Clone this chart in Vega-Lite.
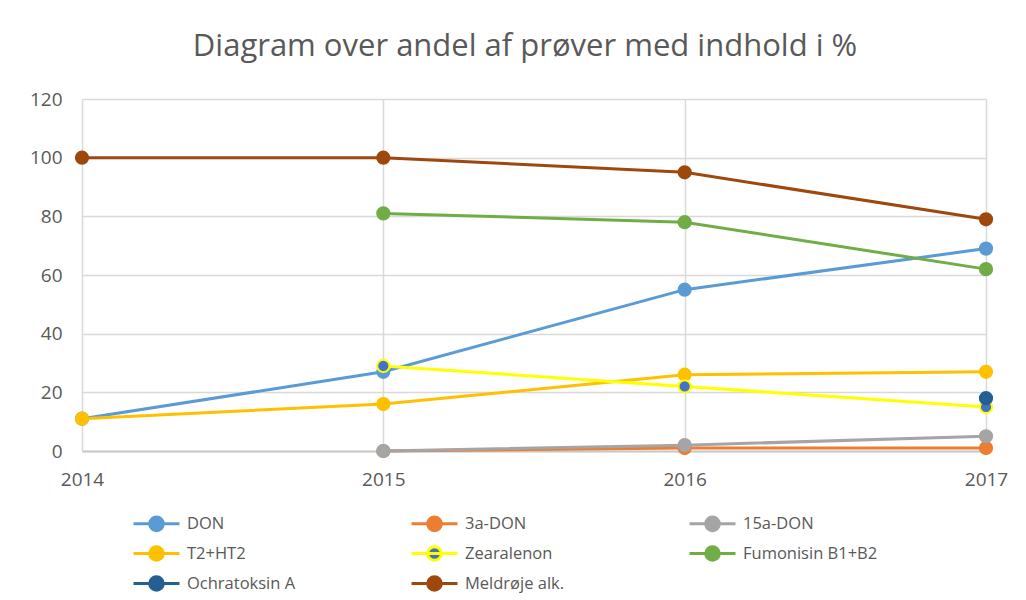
{
  "$schema": "https://vega.github.io/schema/vega-lite/v6.json",
  "width": 904,
  "height": 352,
  "autosize": "none",
  "padding": {"left": 82, "top": 99, "right": 40, "bottom": 149},
  "background": "white",
  "config": {
    "font": "Open Sans",
    "view": {"stroke": null},
    "axis": {"labelColor": "#595959", "labelFontSize": 19, "gridColor": "#d9d9d9", "gridWidth": 1.5, "ticks": false, "title": null},
    "legend": {"labelColor": "#595959", "labelFontSize": 16.5, "padding": 0}
  },
  "title": {
    "text": "Diagram over andel af prøver med indhold i %",
    "fontSize": 31,
    "fontWeight": "normal",
    "color": "#595959",
    "frame": "group",
    "anchor": "middle",
    "baseline": "alphabetic",
    "offset": 3,
    "dx": -9
  },
  "data": {
    "values": [
      {"year": 2014, "series": "DON", "value": 11},
      {"year": 2015, "series": "DON", "value": 27},
      {"year": 2016, "series": "DON", "value": 55},
      {"year": 2017, "series": "DON", "value": 69},
      {"year": 2015, "series": "3a-DON", "value": 0},
      {"year": 2016, "series": "3a-DON", "value": 1},
      {"year": 2017, "series": "3a-DON", "value": 1},
      {"year": 2015, "series": "15a-DON", "value": 0},
      {"year": 2016, "series": "15a-DON", "value": 2},
      {"year": 2017, "series": "15a-DON", "value": 5},
      {"year": 2014, "series": "T2+HT2", "value": 11},
      {"year": 2015, "series": "T2+HT2", "value": 16},
      {"year": 2016, "series": "T2+HT2", "value": 26},
      {"year": 2017, "series": "T2+HT2", "value": 27},
      {"year": 2015, "series": "Zearalenon", "value": 29},
      {"year": 2016, "series": "Zearalenon", "value": 22},
      {"year": 2017, "series": "Zearalenon", "value": 15},
      {"year": 2015, "series": "Fumonisin B1+B2", "value": 81},
      {"year": 2016, "series": "Fumonisin B1+B2", "value": 78},
      {"year": 2017, "series": "Fumonisin B1+B2", "value": 62},
      {"year": 2017, "series": "Ochratoksin A", "value": 18},
      {"year": 2014, "series": "Meldrøje alk.", "value": 100},
      {"year": 2015, "series": "Meldrøje alk.", "value": 100},
      {"year": 2016, "series": "Meldrøje alk.", "value": 95},
      {"year": 2017, "series": "Meldrøje alk.", "value": 79}
    ]
  },
  "encoding": {
    "x": {
      "field": "year", "type": "quantitative",
      "scale": {"domain": [2014, 2017], "nice": false, "zero": false},
      "axis": {"values": [2014, 2015, 2016, 2017], "format": "d", "labelPadding": 19, "domainColor": "#c8c8c8", "domainWidth": 2, "labelFlush": false}
    },
    "y": {
      "field": "value", "type": "quantitative",
      "scale": {"domain": [0, 120], "nice": false},
      "axis": {"values": [0, 20, 40, 60, 80, 100, 120], "labelPadding": 20, "domain": false}
    }
  },
  "layer": [
    {
      "mark": {"type": "line", "strokeWidth": 3},
      "encoding": {
        "stroke": {
          "field": "series", "type": "nominal",
          "scale": {
            "domain": ["DON", "3a-DON", "15a-DON", "T2+HT2", "Zearalenon", "Fumonisin B1+B2", "Ochratoksin A", "Meldrøje alk."],
            "range": ["#5B9BD5", "#ED7D31", "#A5A5A5", "#FFC000", "#FFFF00", "#70AD47", "#255E91", "#9E480E"]
          },
          "legend": {
            "title": null,
            "orient": "none",
            "legendX": 63,
            "legendY": 413,
            "direction": "horizontal",
            "columns": 3,
            "gridAlign": "all",
            "columnPadding": 83,
            "rowPadding": 3,
            "symbolType": "M-2.3,0H2.3M-0.68,0A0.68,0.68,0,1,1,0.68,0A0.68,0.68,0,1,1,-0.68,0Z",
            "symbolSize": 400,
            "symbolStrokeWidth": 3,
            "labelOffset": 19,
            "labelLimit": 300
          }
        }
      }
    },
    {
      "mark": {"type": "point", "filled": true, "size": 150, "strokeWidth": 2, "opacity": 1},
      "encoding": {
        "stroke": {"field": "series", "type": "nominal"},
        "fill": {
          "field": "series", "type": "nominal",
          "scale": {
            "domain": ["DON", "3a-DON", "15a-DON", "T2+HT2", "Zearalenon", "Fumonisin B1+B2", "Ochratoksin A", "Meldrøje alk."],
            "range": ["#5B9BD5", "#ED7D31", "#A5A5A5", "#FFC000", "#4472C4", "#70AD47", "#255E91", "#9E480E"]
          }
        }
      }
    }
  ]
}
